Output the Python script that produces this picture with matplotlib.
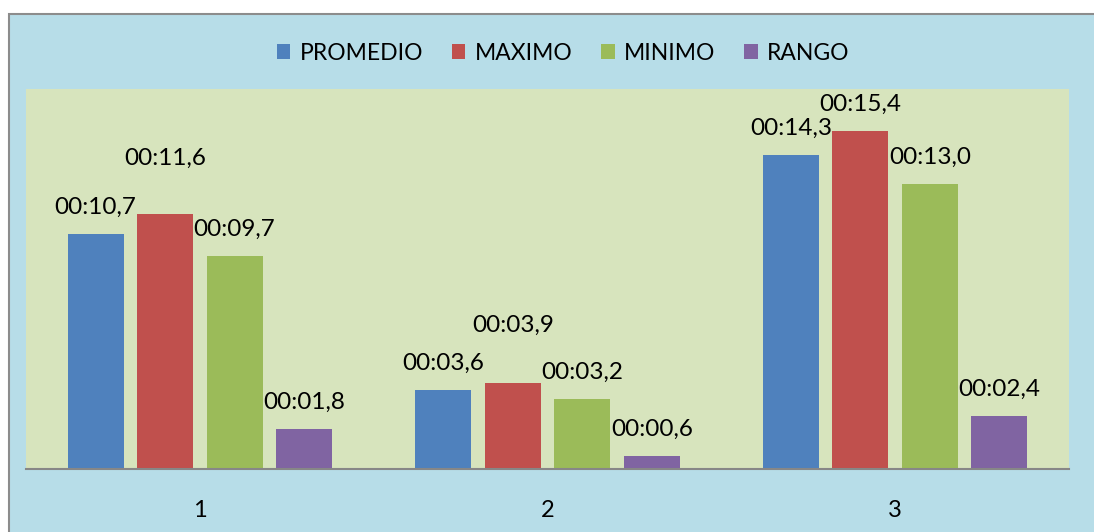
import numpy as np
import matplotlib.pyplot as plt
from matplotlib.patches import Rectangle

plt.rcParams['font.family'] = ['Lato', 'DejaVu Sans']

grupos = ["1", "2", "3"]
series = ["PROMEDIO", "MAXIMO", "MINIMO", "RANGO"]
# tiempos en segundos
promedio = [10.7, 3.6, 14.3]
maximo = [11.6, 3.9, 15.4]
minimo = [9.7, 3.2, 13.0]
rango = [1.8, 0.6, 2.4]
valores = [promedio, maximo, minimo, rango]

colores = ["#4F81BD", "#C0504D", "#9BBB59", "#8064A2"]
# separacion de etiquetas sobre la barra (pixeles)
despl = [[27, 27, 27], [56, 58, 27], [27, 26, 26], [27, 26, 27]]


def etiqueta(seg):
    return ("00:%04.1f" % seg).replace(".", ",")


W, H = 1094, 532
fig = plt.figure(figsize=(W / 100, H / 100), dpi=100)
fig.patch.set_facecolor("white")
fondo = Rectangle((9 / W, -0.1), 1.2, 1 - 14 / H + 0.1,
                  transform=fig.transFigure, facecolor="#B7DDE8",
                  edgecolor="#8C8C8C", linewidth=1.5, zorder=-1)
fig.patches.append(fondo)

ax = fig.add_axes([26 / W, (H - 469) / H, (1069 - 26) / W, (469 - 89) / H])
ax.set_facecolor("#D7E4BD")

x = np.arange(len(grupos))
ancho = 0.161
for i, (nombre, vals, col) in enumerate(zip(series, valores, colores)):
    pos = x + (i - 1.5) * 0.2
    ax.bar(pos, vals, ancho, color=col, label=nombre, zorder=2)
    for j, (p, v) in enumerate(zip(pos, vals)):
        ax.annotate(etiqueta(v), (p, v), xytext=(0, despl[i][j]),
                    textcoords="offset pixels", ha="center", va="center",
                    fontsize=17.5)

ax.set_xlim(-0.5, 2.5)
ax.set_ylim(0, 17.31)
ax.set_xticks(x)
ax.set_xticklabels(grupos, fontsize=17)
ax.tick_params(axis="x", length=0, pad=22)
ax.set_yticks([])
for s in ["top", "left", "right"]:
    ax.spines[s].set_visible(False)
ax.spines["bottom"].set_color("#878787")
ax.spines["bottom"].set_linewidth(1.5)
ax.spines["bottom"].set_zorder(3)

h, l = ax.get_legend_handles_labels()
fig.legend(h, l, loc="center", bbox_to_anchor=(563 / W, 1 - 53 / H), ncol=4,
           frameon=False, fontsize=16.5, handlelength=0.6, handleheight=0.6,
           handletextpad=0.4, columnspacing=1.25)

fig.savefig("out.png", dpi=100, facecolor="white")
